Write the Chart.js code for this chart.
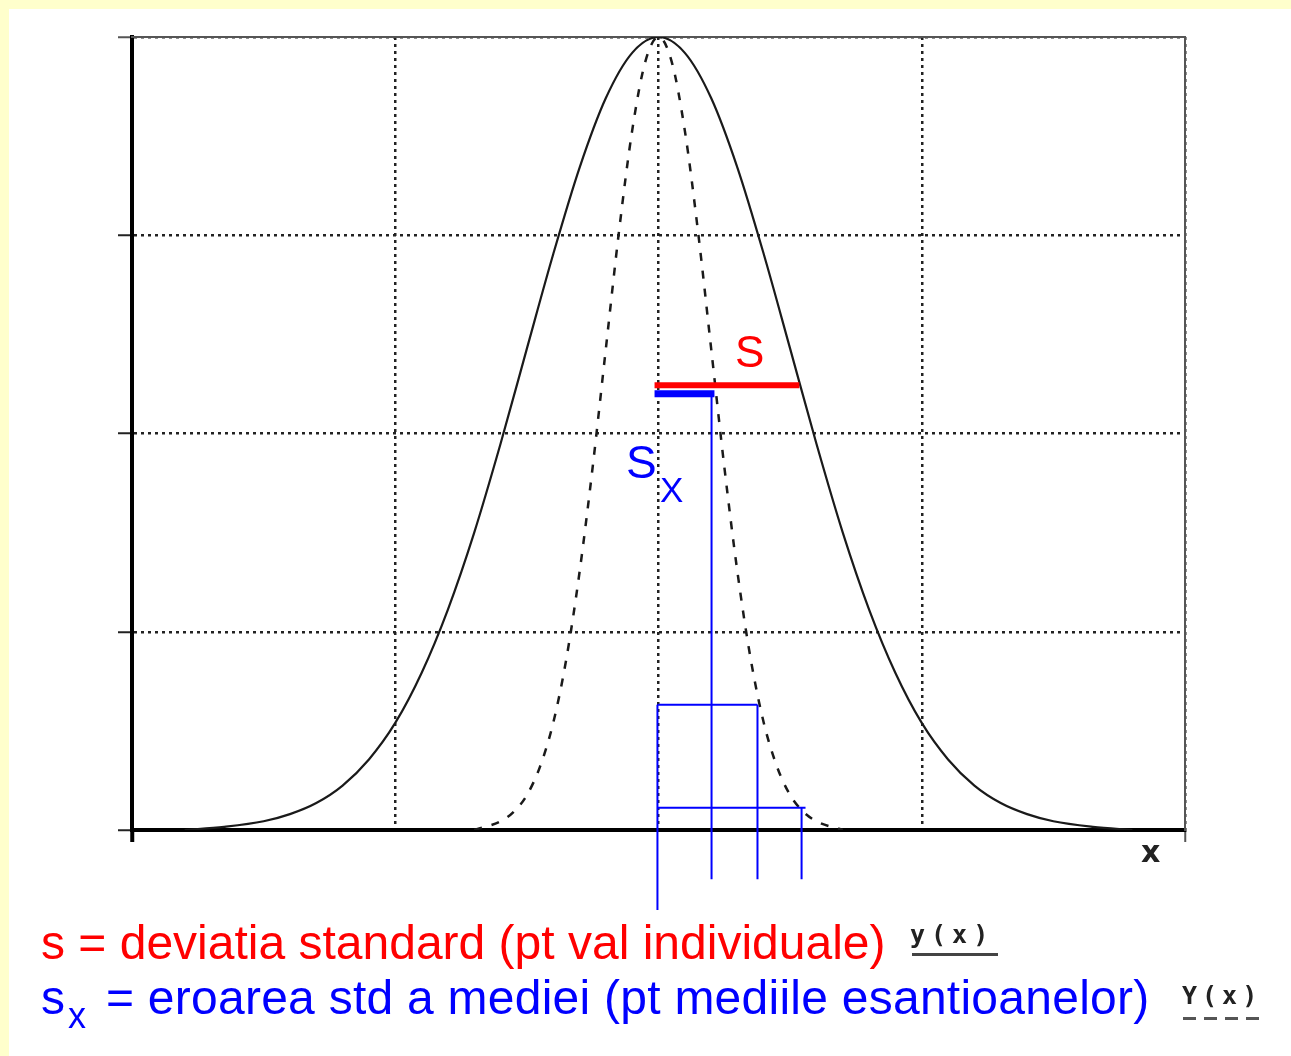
<html>
  <head>
    <script src="https://cdn.jsdelivr.net/npm/chart.js@4/dist/chart.umd.min.js"></script>
    <style>
      body { margin: 0; background: #ffffcc; width: 1291px; height: 1056px; overflow: hidden; }
      #sheet { position: absolute; left: 9px; top: 9px; right: 0; bottom: 0; background: #fff; }
      #chart { position: absolute; left: 0; top: 0; }
      .t { position: absolute; white-space: nowrap; line-height: 1; font-family: "Liberation Sans", Arial, sans-serif; }
      .mono { position: absolute; white-space: nowrap; line-height: 1; font-family: "DejaVu Sans Mono", monospace; font-weight: bold; color: #222; }
    </style>
  </head>
  <body>
    <div id="sheet"></div>
    <canvas id="chart" width="1291" height="1056"></canvas>

    <div class="t" style="left:735px; top:330px; font-size:44px; color:#ff0000">S</div>
    <div class="t" style="left:626px; top:439px; font-size:46px; color:#0000ff">S</div>
    <div class="t" style="left:660px; top:472px; font-size:35px; color:#0000ff">X</div>
    <div class="mono" style="left:1141px; top:837px; font-size:30px; font-family:'DejaVu Sans', sans-serif">x</div>

    <div class="t" style="left:41px; top:919px; font-size:48px; color:#ff0000">s = deviatia standard (pt val individuale)</div>
    <div class="t" style="left:41px; top:974px; font-size:48px; color:#0000ff">s</div>
    <div class="t" style="left:68px; top:998px; font-size:36px; color:#0000ff">x</div>
    <div class="t" style="left:106px; top:974px; font-size:48px; color:#0000ff; letter-spacing:0.25px">= eroarea std a mediei (pt mediile esantioanelor)</div>

    <div class="mono" style="left:910px; top:922px; font-size:25px; letter-spacing:6px">y(x)</div>
    <div style="position:absolute; left:912px; top:953px; width:86px; height:3px; background:#444"></div>
    <div class="mono" style="left:1182px; top:983px; font-size:25px; letter-spacing:5px">Y(x)</div>
    <div style="position:absolute; left:1183px; top:1017px; width:78px; height:3px; background:repeating-linear-gradient(to right, #555 0 13px, transparent 13px 21px)"></div>

    <script>
      // y(x): individual values, wide curve (solid)
      const wideX = [-3.6, -3.3, -3.0, -2.8, -2.6, -2.4, -2.2, -2.0, -1.8, -1.6, -1.4, -1.2, -1.0, -0.8, -0.6, -0.4, -0.2, 0,
                     0.2, 0.4, 0.6, 0.8, 1.0, 1.2, 1.4, 1.6, 1.8, 2.0, 2.2, 2.4, 2.6, 2.8, 3.0, 3.3, 3.6];
      const wideY = [0.0, 0.004, 0.011, 0.020, 0.034, 0.056, 0.089, 0.135, 0.198, 0.278, 0.375, 0.487, 0.607, 0.726, 0.835, 0.923, 0.980, 1.0,
                     0.980, 0.923, 0.835, 0.726, 0.607, 0.487, 0.375, 0.278, 0.198, 0.135, 0.089, 0.056, 0.034, 0.020, 0.011, 0.004, 0.0];

      // Y(x): sample means, narrow curve (dashed)
      const narrowX = [-1.4, -1.2, -1.1, -1.0, -0.9, -0.8, -0.7, -0.6, -0.5, -0.4, -0.3, -0.2, -0.1, 0,
                       0.1, 0.2, 0.3, 0.4, 0.5, 0.6, 0.7, 0.8, 0.9, 1.0, 1.1, 1.2, 1.4];
      const narrowY = [0.0, 0.011, 0.023, 0.044, 0.080, 0.135, 0.216, 0.325, 0.458, 0.607, 0.755, 0.882, 0.969, 1.0,
                       0.969, 0.882, 0.755, 0.607, 0.458, 0.325, 0.216, 0.135, 0.080, 0.044, 0.023, 0.011, 0.0];

      // s and s_x bars
      const sBarX = [-0.03, 1.07];
      const sBarY = [0.561, 0.561];
      const sxBarX = [-0.03, 0.425];
      const sxBarY = [0.55, 0.55];

      // thin blue guide lines, pairs of [x, y]
      const guides = [
        [[0.403, 0.55], [0.403, -0.062]],
        [[-0.008, 0.158], [-0.008, -0.101]],
        [[0.752, 0.158], [0.752, -0.062]],
        [[1.087, 0.028], [1.087, -0.062]],
        [[-0.008, 0.158], [0.752, 0.158]],
        [[-0.008, 0.028], [1.117, 0.028]]
      ];

      const xTicks = [-4, -2, 0, 2, 4];
      const yTicks = [0, 0.25, 0.5, 0.75, 1];

      const pts = (xs, ys) => xs.map((x, i) => ({ x: x, y: ys[i] }));

      const datasets = [];
      datasets.push({ data: pts(sBarX, sBarY), borderColor: "#ff0000", borderWidth: 6, clip: false });
      datasets.push({ data: pts(sxBarX, sxBarY), borderColor: "#0000ff", borderWidth: 7, clip: false });
      guides.forEach(g => {
        datasets.push({ data: g.map(p => ({ x: p[0], y: p[1] })), borderColor: "#0000ff", borderWidth: 2, clip: false });
      });
      datasets.push({ data: pts(narrowX, narrowY), borderColor: "#1a1a1a", borderWidth: 2.5, borderDash: [8, 10], cubicInterpolationMode: "monotone" });
      datasets.push({ data: pts(wideX, wideY), borderColor: "#1a1a1a", borderWidth: 2.2, cubicInterpolationMode: "monotone" });
      datasets.forEach(d => { d.showLine = true; d.pointRadius = 0; d.fill = false; });

      new Chart(document.getElementById("chart").getContext("2d"), {
        type: "scatter",
        data: { datasets: datasets },
        options: {
          responsive: false,
          animation: false,
          events: [],
          layout: { padding: { left: 118, top: 37, right: 106, bottom: 214 } },
          plugins: { legend: { display: false }, tooltip: { enabled: false } },
          scales: {
            x: {
              type: "linear", position: "bottom", min: -4, max: 4,
              afterBuildTicks: s => { s.ticks = xTicks.map(v => ({ value: v })); },
              afterFit: s => { s.height = 12; },
              ticks: { display: false },
              grid: {
                color: "#222", lineWidth: 2.5,
                drawTicks: true, tickLength: 12, tickBorderDash: [],
                tickColor: c => c.index === 0 ? "#000" : (c.index === 4 ? "#555" : "rgba(0,0,0,0)"),
                tickWidth: c => c.index === 0 ? 4 : 2
              },
              border: { display: true, color: "#000", width: 4, dash: [3, 4] }
            },
            y: {
              type: "linear", position: "left", min: 0, max: 1,
              afterBuildTicks: s => { s.ticks = yTicks.map(v => ({ value: v })); },
              afterFit: s => { s.width = 14; },
              ticks: { display: false },
              grid: {
                color: "#222", lineWidth: 2.5,
                drawTicks: true, tickLength: 14, tickBorderDash: [],
                tickColor: c => c.index === 4 ? "#555" : "#222", tickWidth: 2
              },
              border: { display: true, color: "#000", width: 4, dash: [3, 4] }
            },
            x2: {
              type: "linear", position: "top", min: -4, max: 4,
              afterFit: s => { s.height = 0; },
              ticks: { display: false },
              grid: { display: false },
              border: { display: true, color: "#555", width: 2 }
            },
            y2: {
              type: "linear", position: "right", min: 0, max: 1,
              afterFit: s => { s.width = 0; },
              ticks: { display: false },
              grid: { display: false },
              border: { display: true, color: "#555", width: 2 }
            }
          }
        }
      });
    </script>
  </body>
</html>
